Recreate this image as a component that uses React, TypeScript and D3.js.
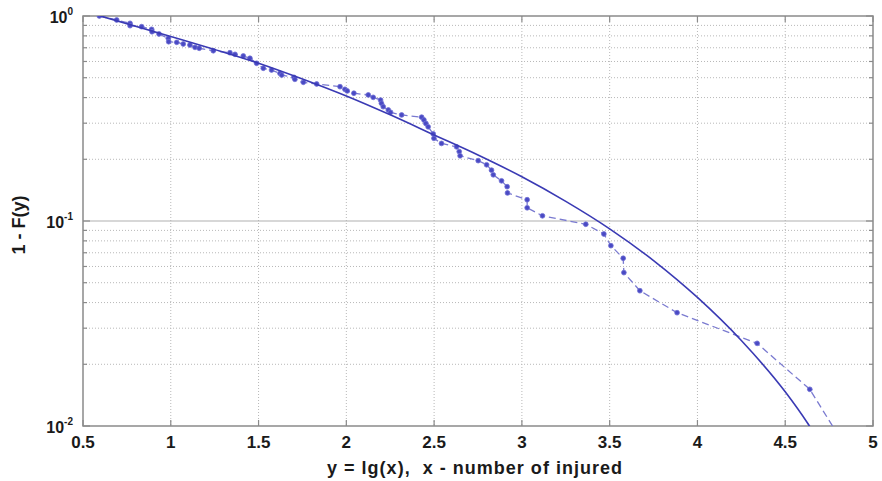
import React from "react";
import * as d3 from "d3";

// Empirical complementary CDF (dashed with markers)
const empX = [
  0.593, 0.692, 0.768, 0.768, 0.834, 0.891, 0.893, 0.933, 0.986, 0.988, 1.034, 1.071, 1.109, 1.138,
  1.162, 1.242, 1.337, 1.366, 1.413, 1.451, 1.489, 1.527, 1.574, 1.622, 1.632, 1.702, 1.707, 1.755,
  1.831, 1.964, 1.992, 2.005, 2.043, 2.125, 2.153, 2.195, 2.2, 2.21, 2.239, 2.252, 2.315, 2.429,
  2.442, 2.453, 2.466, 2.495, 2.499, 2.542, 2.628, 2.643, 2.648, 2.751, 2.799, 2.827, 2.837, 2.884,
  2.916, 2.918, 3.03, 3.03, 3.117, 3.364, 3.467, 3.507, 3.577, 3.581, 3.672, 3.884, 4.34, 4.64, 4.9,
];
const empY = [
  1.0, 0.956, 0.921, 0.897, 0.887, 0.861, 0.838, 0.817, 0.778, 0.749, 0.744, 0.73, 0.722, 0.703,
  0.696, 0.677, 0.662, 0.65, 0.638, 0.622, 0.588, 0.556, 0.545, 0.525, 0.515, 0.502, 0.491, 0.475,
  0.466, 0.452, 0.439, 0.431, 0.42, 0.412, 0.401, 0.389, 0.375, 0.361, 0.348, 0.339, 0.329, 0.321,
  0.311, 0.299, 0.288, 0.266, 0.253, 0.239, 0.23, 0.218, 0.208, 0.197, 0.188, 0.177, 0.168, 0.157,
  0.147, 0.137, 0.127, 0.116, 0.106, 0.0964, 0.0864, 0.0758, 0.0658, 0.056, 0.0457, 0.0357, 0.0253,
  0.0151, 0.0066,
];

// Fitted curve (solid), log10 of 1-F(y)
const fitX = [0.6, 1.0, 1.25, 1.5, 1.75, 2.0, 2.25, 2.5, 2.75, 3.0, 3.25, 3.5, 3.75, 4.0, 4.25, 4.5, 4.625, 4.75];
const fitLog = [0, -0.1, -0.163, -0.23, -0.307, -0.39, -0.482, -0.58, -0.678, -0.784, -0.904, -1.038, -1.193, -1.373, -1.583, -1.833, -1.983, -2.158];

const xTicks = [0.5, 1, 1.5, 2, 2.5, 3, 3.5, 4, 4.5, 5];
const xTickLabels = ["0.5", "1", "1.5", "2", "2.5", "3", "3.5", "4", "4.5", "5"];
const yMajor = [1, 0.1, 0.01];
const yMajorExp = ["0", "-1", "-2"];

const W = 882;
const H = 481;
const L = 83, R = 873, T = 16, B = 426;

export default function App() {
  const x = d3.scaleLinear().domain([0.5, 5]).range([L, R]);
  const y = d3.scaleLog().domain([0.01, 1]).range([B, T]);

  const minor: number[] = [];
  [0.01, 0.1].forEach((d) => {
    for (let k = 2; k <= 9; k++) minor.push(d * k);
  });

  const emp = empX.map((v, i) => [v, empY[i]] as [number, number]);
  const fit = fitX.map((v, i) => [v, Math.pow(10, fitLog[i])] as [number, number]);

  const line = d3
    .line<[number, number]>()
    .x((d) => x(d[0]))
    .y((d) => y(d[1]));
  const smooth = d3
    .line<[number, number]>()
    .x((d) => x(d[0]))
    .y((d) => y(d[1]))
    .curve(d3.curveMonotoneX);

  const font = "'Liberation Sans', Arial, Helvetica, sans-serif";
  const gridColor = "#b8b8b8";
  const axisColor = "#8a8a8a";
  const lineColor = "#3a3ab4";
  const dashColor = "#7a7ad0";

  return (
    <svg
      width={W}
      height={H}
      style={{ position: "absolute", left: 0, top: 0, background: "#fff" }}
      fontFamily={font}
    >
      <defs>
        <clipPath id="plotclip">
          <rect x={L} y={T} width={R - L} height={B - T} />
        </clipPath>
      </defs>
      <rect x={0} y={0} width={W} height={H} fill="#fff" />

      {/* grid */}
      <g>
        {xTicks.slice(1, -1).map((t) => (
          <line key={"gx" + t} x1={x(t)} x2={x(t)} y1={T} y2={B} stroke={gridColor} strokeWidth={1} strokeDasharray="1,2" />
        ))}
        {minor.map((t) => (
          <line key={"gy" + t} x1={L} x2={R} y1={y(t)} y2={y(t)} stroke={gridColor} strokeWidth={1} strokeDasharray="1,2" />
        ))}
        <line x1={L} x2={R} y1={y(0.1)} y2={y(0.1)} stroke="#b0b0b0" strokeWidth={1.2} />
      </g>

      {/* axes box */}
      <rect x={L} y={T} width={R - L} height={B - T} fill="none" stroke={axisColor} strokeWidth={1.5} />

      {/* ticks */}
      <g stroke={axisColor} strokeWidth={1.2}>
        {xTicks.map((t) => (
          <g key={"xt" + t}>
            <line x1={x(t)} x2={x(t)} y1={B} y2={B - 6} />
            <line x1={x(t)} x2={x(t)} y1={T} y2={T + 6} />
          </g>
        ))}
        {minor.concat(yMajor).map((t) => (
          <g key={"yt" + t}>
            <line x1={L} x2={L + (yMajor.includes(t) ? 7 : 4)} y1={y(t)} y2={y(t)} />
            <line x1={R} x2={R - (yMajor.includes(t) ? 7 : 4)} y1={y(t)} y2={y(t)} />
          </g>
        ))}
      </g>

      {/* data */}
      <g clipPath="url(#plotclip)">
        <path d={line(emp) || ""} fill="none" stroke={dashColor} strokeWidth={1.3} strokeDasharray="7,4" />
        {emp.map((d, i) => (
          <circle key={"m" + i} cx={x(d[0])} cy={y(d[1])} r={2.4} fill="#4a4ac4" stroke="#7070d4" strokeWidth={0.8} />
        ))}
        <path d={smooth(fit) || ""} fill="none" stroke={lineColor} strokeWidth={1.6} />
      </g>

      {/* x tick labels */}
      <g fontWeight="bold" fontSize={17} fill="#1a1a1a" textAnchor="middle">
        {xTicks.map((t, i) => (
          <text key={"xl" + t} x={x(t)} y={B + 22}>
            {xTickLabels[i]}
          </text>
        ))}
      </g>

      {/* y tick labels */}
      <g fontWeight="bold" fill="#1a1a1a">
        {yMajor.map((t, i) => (
          <text key={"yl" + t} x={L - 10} y={y(t) + 7} textAnchor="end">
            <tspan fontSize={16}>10</tspan>
            <tspan fontSize={10} dy={-8}>{yMajorExp[i]}</tspan>
          </text>
        ))}
      </g>

      {/* axis titles */}
      <text
        x={(327 + 622) / 2}
        y={474}
        textAnchor="middle"
        fontWeight="bold"
        fontSize={18}
        fill="#1a1a1a"
        style={{ whiteSpace: "pre" }}
        textLength={295}
        lengthAdjust="spacing"
      >
        {"y = lg(x),  x - number of injured"}
      </text>
      <text
        transform={`translate(25,${225}) rotate(-90)`}
        textAnchor="middle"
        fontWeight="bold"
        fontSize={18}
        fill="#1a1a1a"
      >
        1 - F(y)
      </text>
    </svg>
  );
}
